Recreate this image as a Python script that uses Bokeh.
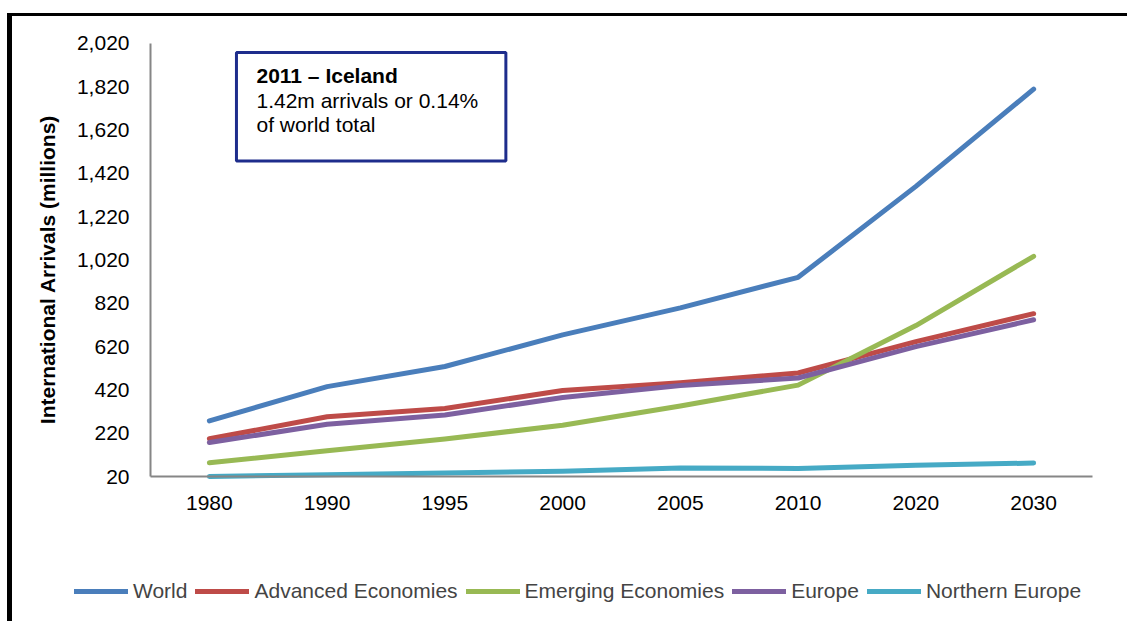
import math
from bokeh.plotting import figure
from bokeh.models import (Range1d, FixedTicker, NumeralTickFormatter,
                          Legend, LegendItem, BoxAnnotation, Label)
from bokeh.embed import file_html
from bokeh.resources import INLINE

years = ["1980", "1990", "1995", "2000", "2005", "2010", "2020", "2030"]
world = [277, 435, 528, 674, 799, 940, 1360, 1809]
advanced = [194, 296, 334, 417, 453, 498, 643, 772]
emerging = [83, 139, 193, 257, 346, 442, 717, 1037]
europe = [177, 261, 304, 385, 440, 475, 620, 744]
northern_europe = [20, 28, 36, 44, 59, 57, 72, 82]
y_ticks = [20, 220, 420, 620, 820, 1020, 1220, 1420, 1620, 1820, 2020]

series = [
    ("World", world, "#4A7EBB"),
    ("Advanced Economies", advanced, "#BE4B48"),
    ("Emerging Economies", emerging, "#98B954"),
    ("Europe", europe, "#7D60A0"),
    ("Northern Europe", northern_europe, "#46AAC5"),
]

# category slots: each year occupies one unit, drawn at the slot centre
x_pos = [i + 0.5 for i in range(len(years))]

FONT = "Liberation Sans"

p = figure(width=1120, height=608, output_backend="svg", toolbar_location=None,
           x_range=Range1d(-1.17197, 8.33970), y_range=Range1d(-663.6, 2144.71),
           min_border=0)
p.styles = {"border-left": "5px solid black", "border-top": "3px solid black",
            "margin-left": "7px", "margin-top": "13px"}
p.outline_line_color = None
p.xgrid.grid_line_color = None
p.ygrid.grid_line_color = None

items = []
for name, vals, col in series:
    r = p.line(x_pos, vals, line_color=col, line_width=5, line_cap="round", line_join="round")
    items.append(LegendItem(label=name, renderers=[r]))

for ax in (p.xaxis[0], p.yaxis[0]):
    ax.axis_line_color = "#868686"
    ax.axis_line_width = 2
    ax.major_tick_line_color = None
    ax.minor_tick_line_color = None
    ax.major_label_text_font = FONT
    ax.major_label_text_font_size = "21px"
    ax.major_label_text_color = "black"

p.yaxis.fixed_location = 0
p.yaxis.bounds = (y_ticks[0], y_ticks[-1])
p.yaxis.ticker = FixedTicker(ticks=y_ticks)
p.yaxis.formatter = NumeralTickFormatter(format="0,0")
p.yaxis.major_label_standoff = 15

p.xaxis.fixed_location = y_ticks[0]
p.xaxis.bounds = (0, len(years))
p.xaxis.ticker = FixedTicker(ticks=x_pos)
p.xaxis.major_label_overrides = {x: y for x, y in zip(x_pos, years)}
p.xaxis.major_label_standoff = 13

p.add_layout(Label(x=-0.875, y=976, text="International Arrivals (millions)",
                   angle=math.pi / 2, text_align="center", text_baseline="middle",
                   text_font=FONT, text_font_size="21px", text_font_style="bold",
                   text_color="black"))

box = BoxAnnotation(left=0.73, right=3.018, top=1978, bottom=1477,
                    fill_color="white", fill_alpha=1, line_color="#1E2D8C",
                    line_alpha=1, line_width=3)
p.add_layout(box)
lines = [("2011 \u2013 Iceland", "bold", 1872), ("1.42m arrivals or 0.14%", "normal", 1757),
         ("of world total", "normal", 1644)]
for txt, style, yv in lines:
    p.add_layout(Label(x=0.9, y=yv, text=txt, text_font=FONT, text_font_size="21px",
                       text_font_style=style, text_baseline="middle", text_color="black"))

legend = Legend(items=items, orientation="horizontal", location=(62, 21),
                padding=0, margin=0, spacing=8, label_standoff=5,
                glyph_width=54, glyph_height=20, label_height=20,
                label_text_font=FONT, label_text_font_size="21px",
                background_fill_alpha=0, border_line_color=None)
p.add_layout(legend, "center")

open("out.html", "w").write(file_html(p, INLINE))
